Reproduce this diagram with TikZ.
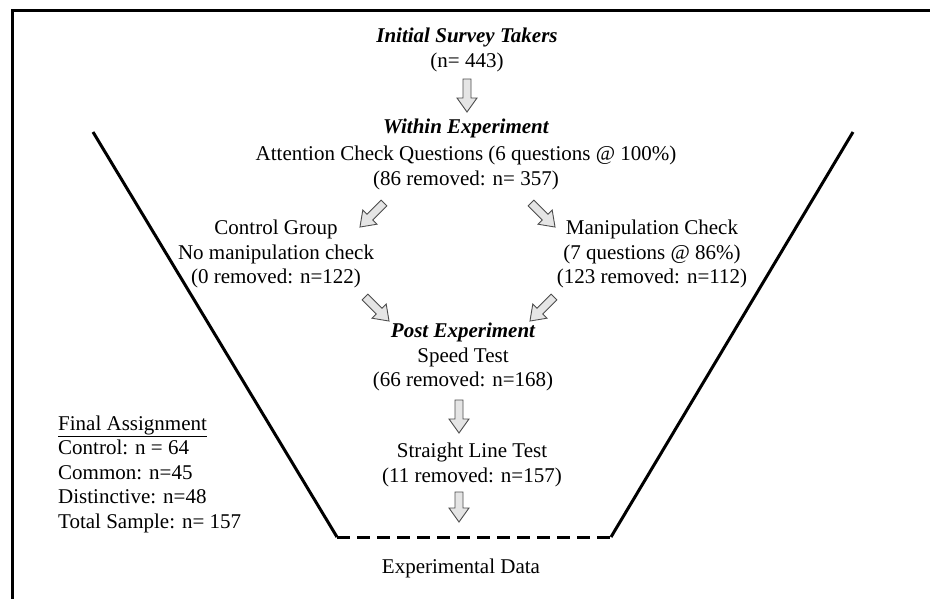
\documentclass[tikz,border=0pt]{standalone}
\usepackage{fontspec}
\setmainfont{Liberation Serif}
\usepackage{tikz}

\tikzset{
  txt/.style={align=center,inner sep=0pt,font=\fontsize{21}{24.5}\selectfont},
  fatarrow/.style={fill=gray!20,draw=gray!60!black,line width=0.9pt,line join=miter},
  pics/downarrow/.style={code={
    \draw[fatarrow] (-4,0) -- (4,0) -- (4,#1-14) -- (10,#1-14) -- (0,#1)
      -- (-10,#1-14) -- (-4,#1-14) -- cycle;}}
}

\begin{document}
\begin{tikzpicture}[x=1pt,y=-1pt]
\useasboundingbox (0,0) rectangle (930,598);
\clip (0,0) rectangle (930,598);
%\draw[help lines,step=50] (0,0) grid (930,598);
\draw[line width=3pt] (12,10) rectangle (945,620);

\path
(467,50) node(init) [txt] {\bfseries\itshape Initial Survey Takers\\(n= 443)}
(466,154) node(within) [txt] {\bfseries\itshape Within Experiment\\[3pt]
  Attention Check Questions (6 questions @ 100\%)\\(86 removed: n= 357)}
(276,254) node(ctrl) [txt] {Control Group\\No manipulation check\\(0 removed: n=122)}
(652,254) node(manip) [txt] {Manipulation Check\\(7 questions @ 86\%)\\(123 removed: n=112)}
(463,357) node(post) [txt] {\bfseries\itshape Post Experiment\\Speed Test\\(66 removed: n=168)}
(472,465) node(straight) [txt] {Straight Line Test\\(11 removed: n=157)}
(58,474) node(final) [txt,align=left,anchor=west] {\underline{Final Assignment}\\Control: n = 64\\
  Common: n=45\\Distinctive: n=48\\Total Sample: n= 157}
(461,568) node(data) [txt] {Experimental Data};

% funnel
\coordinate (ftl) at (93,132);
\coordinate (fbl) at (337,537);
\coordinate (ftr) at (853,132);
\coordinate (fbr) at (611,537);
\draw[line width=3pt] (ftl) -- (fbl);
\draw[line width=3pt] (ftr) -- (fbr);
\draw[line width=3pt,dash pattern=on 13pt off 7pt] (fbl) -- (fbr);

% block arrows
\path (467,79) pic {downarrow=33};
\path (384,203) pic[rotate=-45] {downarrow=34};
\path (531,203) pic[rotate=45] {downarrow=34};
\path (365,297) pic[rotate=45] {downarrow=34};
\path (554,297) pic[rotate=-45] {downarrow=34};
\path (459,400) pic {downarrow=33};
\path (459,492) pic {downarrow=30};
\end{tikzpicture}
\end{document}
